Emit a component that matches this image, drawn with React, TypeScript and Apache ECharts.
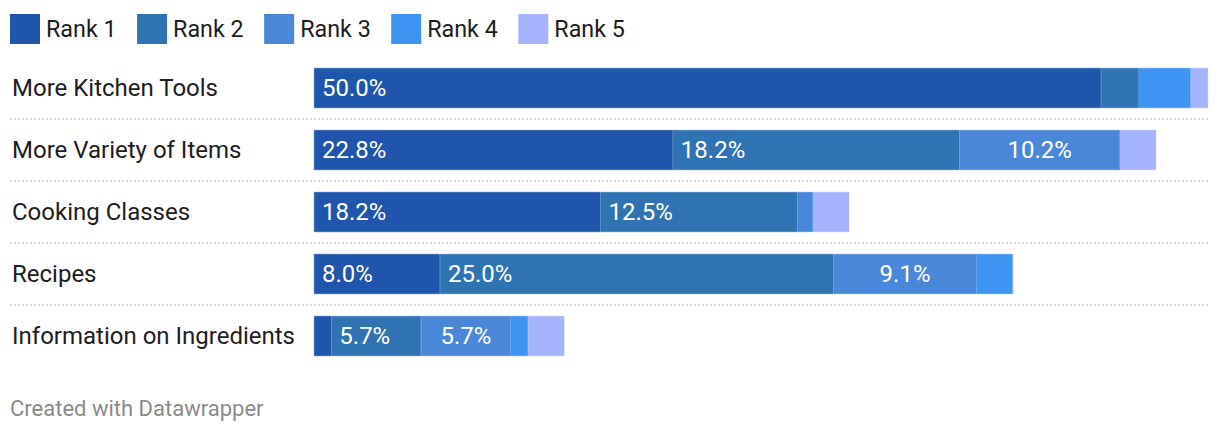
import React, { useEffect, useRef } from "react";
import * as echarts from "echarts";

const categories = [
  "More Kitchen Tools",
  "More Variety of Items",
  "Cooking Classes",
  "Recipes",
  "Information on Ingredients",
];
const seriesNames = ["Rank 1", "Rank 2", "Rank 3", "Rank 4", "Rank 5"];
const rank1 = [50.0, 22.8, 18.2, 8.0, 1.1];
const rank2 = [2.4, 18.2, 12.5, 25.0, 5.7];
const rank3 = [0, 10.2, 1.0, 9.1, 5.7];
const rank4 = [3.3, 0, 0, 2.3, 1.1];
const rank5 = [1.1, 2.3, 2.3, 0, 2.3];
const colors = ["#1f55aa", "#3073b3", "#4b87d8", "#3d94f2", "#a5b3fd"];

const GRID_LEFT = 314;
const GRID_TOP = 57;
const BAND = 62;
const X_MAX = 57;
const PX_PER_UNIT = 15.74;

export default function App() {
  const ref = useRef<HTMLDivElement>(null);
  useEffect(() => {
    if (!ref.current) return;
    const chart = echarts.init(ref.current, undefined, { renderer: "svg" });
    const data = [rank1, rank2, rank3, rank4, rank5];
    const gridWidth = X_MAX * PX_PER_UNIT;
    const gridHeight = BAND * categories.length;
    const font = "Roboto, sans-serif";
    const separators = [];
    for (let i = 1; i < categories.length; i++) {
      const y = GRID_TOP + BAND * i;
      separators.push({
        type: "line",
        shape: { x1: 10, y1: y, x2: 1208, y2: y },
        style: { stroke: "#cccccc", lineWidth: 1.5, lineDash: [2, 2] },
        silent: true,
      });
    }
    chart.setOption({
      animation: false,
      textStyle: { fontFamily: font },
      legend: {
        left: 10,
        top: 14,
        padding: 0,
        icon: "rect",
        itemWidth: 28,
        itemHeight: 28,
        itemGap: 20.5,
        textStyle: {
          fontSize: 23.3,
          color: "#1d1d1d",
          fontFamily: font,
          padding: [0, 0, 0, 2],
        },
        data: seriesNames,
      },
      grid: { left: GRID_LEFT, top: GRID_TOP, width: gridWidth, height: gridHeight },
      xAxis: { type: "value", min: 0, max: X_MAX, show: false },
      yAxis: {
        type: "category",
        data: categories,
        inverse: true,
        axisLine: { show: false },
        axisTick: { show: false },
        splitLine: { show: false },
        axisLabel: {
          align: "left",
          margin: GRID_LEFT - 12,
          fontSize: 24,
          color: "#1d1d1d",
          fontFamily: font,
        },
      },
      graphic: [
        ...separators,
        {
          type: "text",
          left: 10,
          top: 397,
          style: { text: "Created with Datawrapper", fill: "#8a8a8a", fontSize: 22, fontFamily: font },
        },
      ],
      series: seriesNames.map((name, i) => ({
        name,
        type: "bar",
        stack: "total",
        barWidth: 40,
        itemStyle: { color: colors[i], borderColor: colors[i], borderWidth: 0.5 },
        data: data[i],
        label: {
          show: true,
          position: i < 2 ? "insideLeft" : "inside",
          distance: 8,
          color: "#ffffff",
          fontSize: 24,
          fontFamily: font,
          formatter: (p: any) => (p.value >= 5 ? p.value.toFixed(1) + "%" : ""),
        },
      })),
    });
    return () => chart.dispose();
  }, []);
  return (
    <div
      ref={ref}
      style={{ position: "fixed", left: 0, top: 0, width: 1220, height: 434, background: "#fff" }}
    />
  );
}
